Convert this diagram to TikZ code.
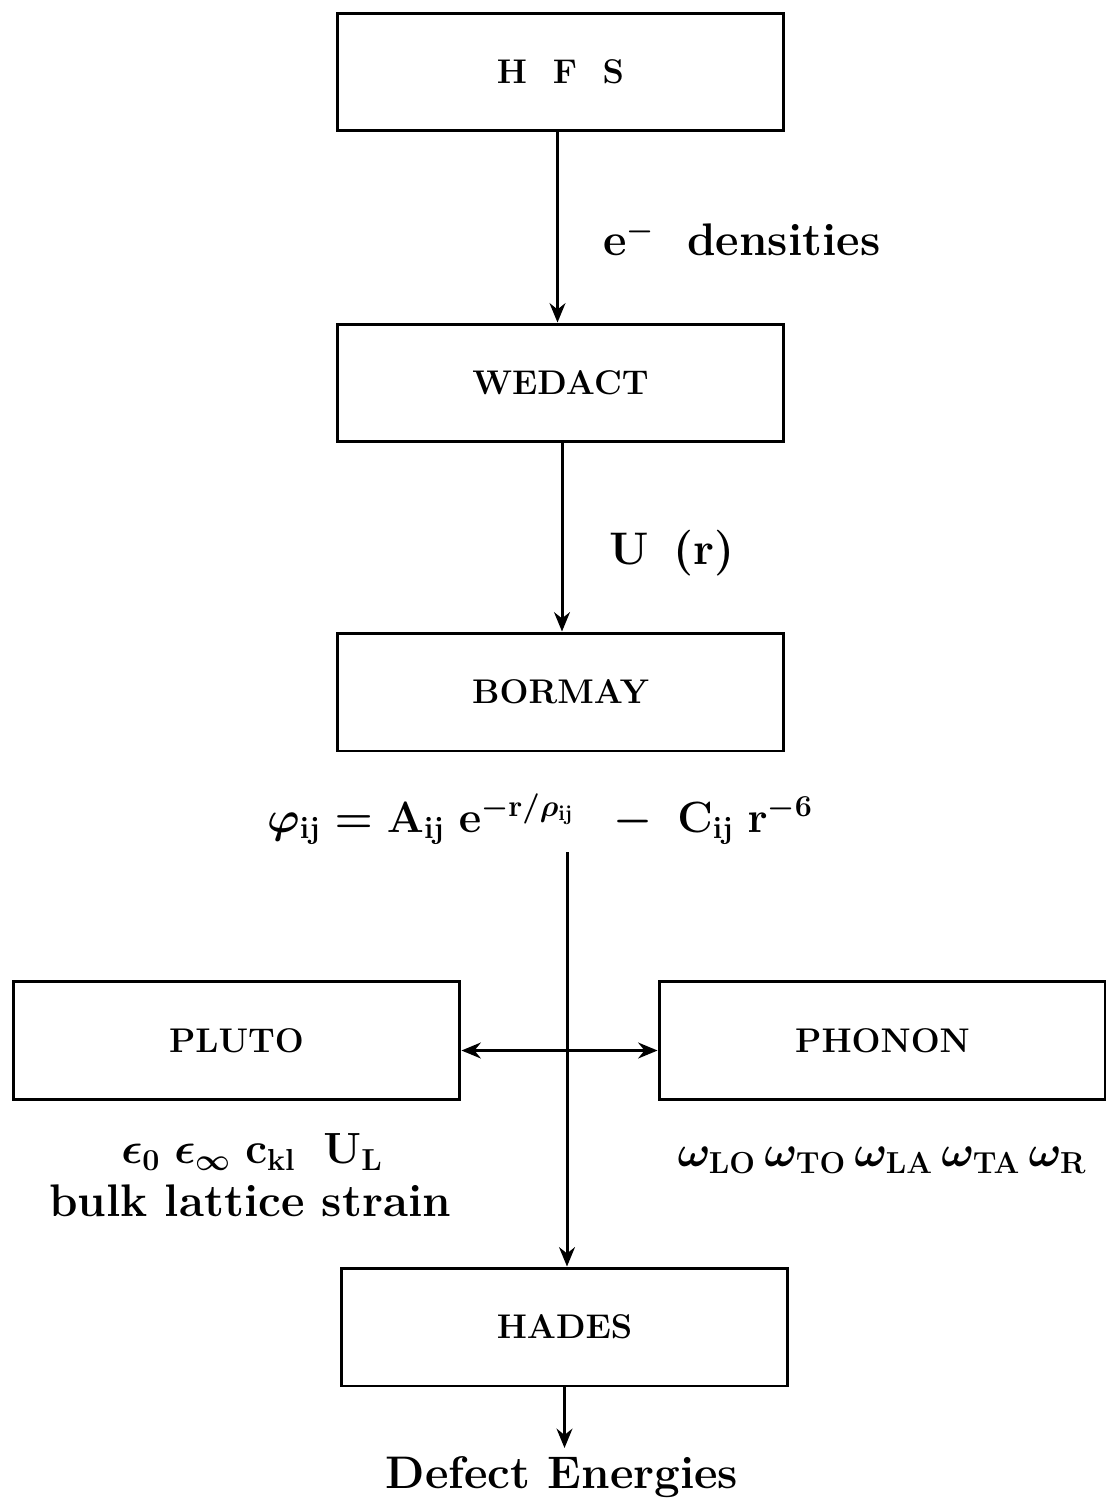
\documentclass[tikz,border=0pt]{standalone}
\usepackage{amsmath,bm}
\usetikzlibrary{arrows.meta}
\begin{document}
\begin{tikzpicture}[x=0.02cm,y=-0.02cm,
  box/.style={draw,line width=1.7pt,minimum width=8.94cm,minimum height=2.36cm,inner sep=0pt,font=\boxfont},
  lbl/.style={font=\bigfont,inner sep=0pt},
  conn/.style={line width=1.7pt,-{Stealth[length=11pt,width=9pt]}},
  dconn/.style={line width=1.7pt,{Stealth[length=11pt,width=9pt]}-{Stealth[length=11pt,width=9pt]}}]
\def\bigfont{\fontsize{26}{32}\selectfont\bfseries\boldmath}
\def\boxfont{\fontsize{19.5}{24}\selectfont\bfseries}
\useasboundingbox (0,0) rectangle (1105,1500);
\node[box] (hfs) at (560.5,72) {\bfseries H\hspace{0.75em}F\hspace{0.75em}S};
\node[box] (wed) at (560.5,383) {\bfseries WEDACT};
\node[box] (bor) at (560.5,692) {\bfseries BORMAY};
\node[box] (plu) at (236.5,1040.5) {\bfseries PLUTO};
\node[box] (pho) at (882.5,1040.5) {\bfseries PHONON};
\node[box] (had) at (564.5,1327) {\bfseries HADES};
\draw[conn] ([xshift=-3*0.02cm]hfs.south) -- ([xshift=-3*0.02cm]wed.north);
\draw[conn] ([xshift=1.5*0.02cm]wed.south) -- ([xshift=1.5*0.02cm]bor.north);
\node[lbl] (edens) at (742,238) {e$^{\mathbf{-}}$\,\, densities};
\node[lbl] (ur) at (672,553) {U\, (r)};
\node[lbl,anchor=base] (phi) at (540,832) {$\bm{\varphi}_{\mathbf{ij}} = \mathbf{A}_{\mathbf{ij}}\;\mathbf{e}^{\mathbf{-r/}\bm{\rho}_{\mathbf{ij}}}\;\; - \;\mathbf{C}_{\mathbf{ij}}\;\mathbf{r}^{\mathbf{-6}}$};
\coordinate (fs) at (567,852);
\draw[conn] (fs) -- (fs |- had.north);
\draw[dconn] ([yshift=-10*0.02cm]plu.east) -- ([yshift=-10*0.02cm]pho.west);
\node[lbl] (pl1) at (252,1152) {$\bm{\epsilon}_{\mathbf{0}}\;\bm{\epsilon}_{\bm{\infty}}\;\mathbf{c}_{\mathbf{kl}}\;\;\mathbf{U}_{\mathbf{L}}$};
\node[lbl] (pl2) at (250,1201) {bulk lattice strain};
\node[lbl] (ph1) at (882,1160) {$\bm{\omega}_{\mathbf{LO}}\,\bm{\omega}_{\mathbf{TO}}\,\bm{\omega}_{\mathbf{LA}}\,\bm{\omega}_{\mathbf{TA}}\,\bm{\omega}_{\mathbf{R}}$};
\coordinate (de) at (564.5,1448);
\draw[conn] (had.south) -- (de);
\node[lbl] (def) at (562,1477) {Defect Energies};
\end{tikzpicture}
\end{document}
